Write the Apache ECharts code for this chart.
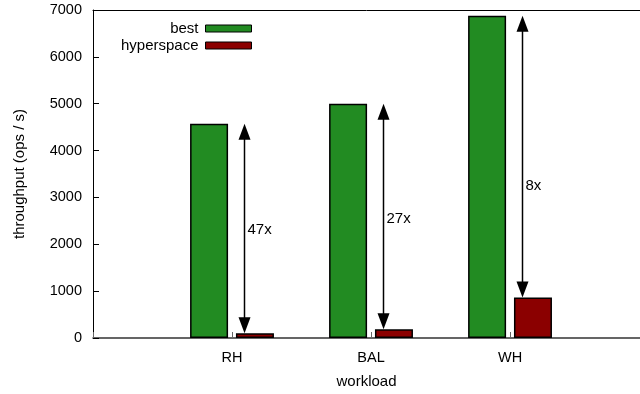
<!DOCTYPE html>
<html>
<head>
<meta charset="utf-8">
<script src="https://cdn.jsdelivr.net/npm/echarts@6/dist/echarts.min.js"></script>
<style>html,body{margin:0;padding:0;background:#fff}#c{width:640px;height:394px}</style>
</head>
<body>
<div id="c"></div>
<script>
const categories = ['RH', 'BAL', 'WH'];
const best = [4575, 5000, 6875];
const hyperspace = [100, 185, 865];
const speedupLabels = ['47x', '27x', '8x'];
const labelHeights = [2300, 2550, 3250];
const yTicks = [0, 1000, 2000, 3000, 4000, 5000, 6000, 7000];

const FONT = "'Liberation Sans', Arial, Helvetica, sans-serif";
const BAR_OFFSET = 0.165;
const ARROW_OFFSET = 0.087;
const X_MIN = -1, X_MAX = 2.935;

const chart = echarts.init(document.getElementById('c'), null, {renderer: 'canvas'});

const arrowData = categories.map((c, i) => [i + ARROW_OFFSET, hyperspace[i], best[i], labelHeights[i], speedupLabels[i]]);

function renderArrow(params, api) {
  const x = api.value(0);
  const pLow = api.coord([x, api.value(1)]);
  const pHigh = api.coord([x, api.value(2)]);
  const pLab = api.coord([x, api.value(3)]);
  const hl = 16, hw = 6;
  const px = Math.round(pLow[0]) + 0.5;
  return {
    type: 'group',
    children: [
      {type: 'line', shape: {x1: px, y1: pHigh[1] + hl - 2, x2: px, y2: pLow[1] - hl + 2},
       style: {stroke: '#000', lineWidth: 1.5}},
      {type: 'polygon', shape: {points: [[px, pHigh[1]], [px - hw, pHigh[1] + hl], [px + hw, pHigh[1] + hl]]},
       style: {fill: '#000'}},
      {type: 'polygon', shape: {points: [[px, pLow[1]], [px - hw, pLow[1] - hl], [px + hw, pLow[1] - hl]]},
       style: {fill: '#000'}},
      {type: 'text', x: px + 3, y: pLab[1],
       style: {text: api.value(4), fill: '#000', font: '15px ' + FONT, align: 'left', verticalAlign: 'middle'}}
    ]
  };
}

const legendCommon = {
  orient: 'horizontal', align: 'right', right: 388, padding: 0,
  itemWidth: 46, itemHeight: 7, itemGap: 8, icon: 'rect',
  textStyle: {fontSize: 15, color: '#000', fontFamily: FONT, padding: [0, 2, 0, 0]}
};

chart.setOption({
  animation: false,
  backgroundColor: '#fff',
  textStyle: {fontFamily: FONT},
  legend: [
    Object.assign({}, legendCommon, {top: 21, data: [{name: 'best', itemStyle: {borderColor: '#000', borderWidth: 1}}]}),
    Object.assign({}, legendCommon, {top: 38, data: [{name: 'hyperspace', itemStyle: {borderColor: '#000', borderWidth: 1}}]})
  ],
  grid: {left: 93, right: 0, top: 10, bottom: 55, show: false},
  xAxis: [{
    type: 'value', min: X_MIN, max: X_MAX, interval: 1,
    name: 'workload', nameLocation: 'middle', nameGap: 36,
    nameTextStyle: {fontSize: 15, color: '#000', fontFamily: FONT},
    axisLine: {show: true, onZero: false, lineStyle: {color: '#333', width: 1.5}},
    axisTick: {show: true, inside: true, length: 6, lineStyle: {color: '#666', width: 1}},
    axisLabel: {fontSize: 14.5, color: '#000', margin: 12, fontFamily: FONT, showMaxLabel: false,
      formatter: v => (Number.isInteger(v) && v >= 0 && v < categories.length) ? categories[v] : ''},
    splitLine: {show: false}
  }, {
    type: 'value', position: 'top', min: X_MIN, max: X_MAX,
    axisLine: {show: true, onZero: false, lineStyle: {color: '#000', width: 1}},
    axisTick: {show: false}, axisLabel: {show: false}, splitLine: {show: false}
  }],
  yAxis: {
    type: 'value', min: yTicks[0], max: yTicks[yTicks.length - 1], interval: 1000,
    name: 'throughput (ops / s)', nameLocation: 'middle', nameGap: 66,
    nameTextStyle: {fontSize: 15, color: '#000', fontFamily: FONT},
    axisLine: {show: true, onZero: false, lineStyle: {color: '#000', width: 1}},
    axisTick: {show: true, inside: true, length: 6, lineStyle: {color: '#000', width: 1}},
    axisLabel: {fontSize: 14.5, color: '#000', margin: 11, fontFamily: FONT, formatter: v => String(v)},
    splitLine: {show: false}
  },
  series: [
    {
      name: 'best', type: 'bar', barWidth: 38, barGap: '-100%',
      itemStyle: {color: '#228B22', borderColor: '#000', borderWidth: 1.5},
      data: best.map((v, i) => [i - BAR_OFFSET, v])
    },
    {
      name: 'hyperspace', type: 'bar', barWidth: 38, barGap: '-100%',
      itemStyle: {color: '#8B0000', borderColor: '#000', borderWidth: 1.5},
      data: hyperspace.map((v, i) => [i + BAR_OFFSET, v])
    },
    {
      name: 'arrows', type: 'custom', renderItem: renderArrow, data: arrowData, z: 5,
      encode: {x: 0, y: [1, 2]}
    }
  ]
});
</script>
</body>
</html>
